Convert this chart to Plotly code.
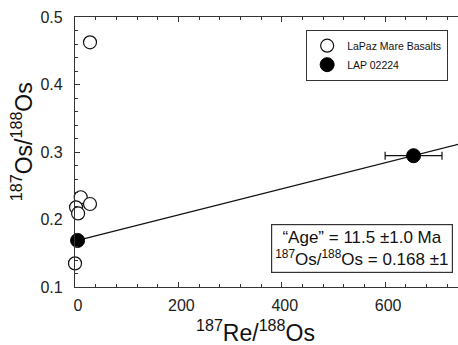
import plotly.graph_objects as go

# Data
basalt_re = [29, 11, 29, 2, 6, 0]
basalt_os = [0.4625, 0.233, 0.223, 0.218, 0.209, 0.135]

lap_re = [5, 655]
lap_os = [0.169, 0.2945]
lap_re_err = [0, 55]

iso_re = [5, 760]
iso_os = [0.169, 0.315]

x_ticks = [0, 200, 400, 600]
y_ticks = [0.1, 0.2, 0.3, 0.4, 0.5]

FONT = "Arial, Liberation Sans, Helvetica, sans-serif"
AX = "#333333"

fig = go.Figure()

fig.add_trace(go.Scatter(
    x=iso_re, y=iso_os, mode="lines",
    line=dict(color="#111111", width=1.2),
    showlegend=False, hoverinfo="skip"))

fig.add_trace(go.Scatter(
    x=basalt_re, y=basalt_os, mode="markers", name="LaPaz Mare Basalts",
    cliponaxis=False,
    marker=dict(symbol="circle", size=13, color="white",
                line=dict(color="#111111", width=1.2))))

fig.add_trace(go.Scatter(
    x=lap_re, y=lap_os, mode="markers", name="LAP 02224",
    cliponaxis=False,
    marker=dict(symbol="circle", size=14, color="black",
                line=dict(color="black", width=1)),
    error_x=dict(type="data", array=lap_re_err, symmetric=True,
                 color="#111111", thickness=1.2, width=4)))

axis_common = dict(
    showline=True, linecolor=AX, linewidth=1.3,
    ticks="inside", tickcolor=AX, tickwidth=1.2, ticklen=5,
    showgrid=False, zeroline=False,
    tickfont=dict(family=FONT, size=16, color="#222222"),
)

fig.update_xaxes(
    **axis_common, range=[0, 741], tickmode="array", tickvals=x_ticks,
    mirror="ticks",
    minor=dict(ticks="inside", dtick=40, tick0=0, ticklen=3, tickcolor=AX, tickwidth=1),
    ticklabelstandoff=4, ticklabelshift=3,
)
fig.update_yaxes(
    **axis_common, range=[0.1, 0.5], tickmode="array", tickvals=y_ticks,
    mirror=False, tickformat=".1f",
    minor=dict(ticks="inside", dtick=0.02, tick0=0.1, ticklen=3, tickcolor=AX, tickwidth=1),
    ticklabelstandoff=8,
)

# axis titles
fig.add_annotation(
    x=0.47, y=-0.163, xref="paper", yref="paper", xanchor="center", yanchor="middle",
    text="<sup>187</sup>Re/<sup>188</sup>Os", showarrow=False,
    font=dict(family=FONT, size=23, color="#111111"))
fig.add_annotation(
    x=-0.138, y=0.537, xref="paper", yref="paper", xanchor="center", yanchor="middle",
    text="<sup>187</sup>Os/<sup>188</sup>Os", showarrow=False, textangle=-90,
    font=dict(family=FONT, size=23, color="#111111"))

fig.add_annotation(
    x=0.749, y=0.141, xref="paper", yref="paper", xanchor="center", yanchor="middle",
    text="\u201cAge\u201d = 11.5 \u00b11.0 Ma<br><sup>187</sup>Os/<sup>188</sup>Os = 0.168 \u00b11",
    showarrow=False, align="center",
    font=dict(family=FONT, size=17, color="#111111"),
    bordercolor="#333333", borderwidth=1.2, borderpad=3, bgcolor="white")

fig.update_layout(
    width=458, height=345,
    margin=dict(l=75, r=0, t=17, b=58),
    plot_bgcolor="white", paper_bgcolor="white",
    showlegend=True,
    legend=dict(x=0.603, y=0.952, xanchor="left", yanchor="top",
                bordercolor="#333333", borderwidth=1.2, bgcolor="white",
                font=dict(family=FONT, size=10.5, color="#111111"),
                itemwidth=30, tracegroupgap=0),
    font=dict(family=FONT),
)

fig.write_html("out.html", config={"displayModeBar": False},
               post_script="document.body.style.margin='0';document.body.style.overflow='hidden';")
